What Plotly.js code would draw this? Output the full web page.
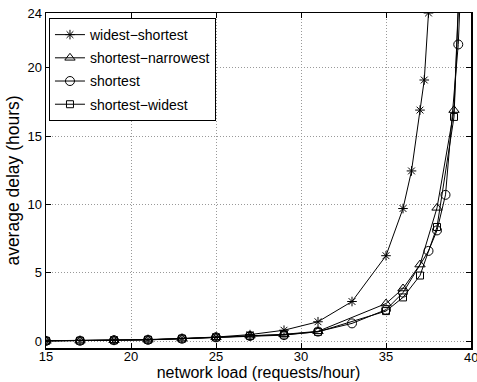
<!DOCTYPE html>
<html>
<head>
<meta charset="utf-8">
<script src="https://cdn.plot.ly/plotly-3.0.1.min.js"></script>
<style>html,body{margin:0;padding:0;background:#fff;}#chart{width:477px;height:382px;}</style>
</head>
<body>
<div id="chart"></div>
<script>
// Data
const seriesNames = ["widest\u2212shortest", "shortest\u2212narrowest", "shortest", "shortest\u2212widest"];

const xWidestShortest = [15, 17, 19, 21, 23, 25, 27, 29, 31, 33, 35, 36, 36.5, 37, 37.25, 37.5, 38];
const yWidestShortest = [0.03, 0.05, 0.08, 0.12, 0.2, 0.3, 0.48, 0.8, 1.42, 2.9, 6.25, 9.7, 12.45, 16.9, 19.1, 24.0, 40];

const xShortestNarrowest = [15, 17, 19, 21, 23, 25, 27, 29, 31, 35, 36, 37, 38, 39, 39.5];
const yShortestNarrowest = [0.02, 0.03, 0.07, 0.1, 0.18, 0.28, 0.4, 0.5, 0.72, 2.75, 3.85, 5.6, 9.75, 16.9, 32];

const xShortest = [15, 17, 19, 21, 23, 25, 27, 29, 31, 33, 35, 36, 37.5, 38, 38.5, 39.25, 39.6];
const yShortest = [0.02, 0.03, 0.07, 0.1, 0.18, 0.28, 0.38, 0.44, 0.7, 1.3, 2.3, 3.55, 6.6, 8.1, 10.7, 21.7, 32];

const xShortestWidest = [15, 17, 19, 21, 23, 25, 27, 29, 31, 35, 36, 37, 38, 39, 39.5];
const yShortestWidest = [0.02, 0.03, 0.07, 0.1, 0.18, 0.28, 0.38, 0.48, 0.68, 2.2, 3.2, 4.8, 8.35, 16.4, 32];

const xTicks = [15, 20, 25, 30, 35, 40];
const xTickText = ["15", "20", "25", "30", "35", ""];   // last label is drawn as an edge annotation below
const xEdgeTick = 40;
const yTicks = [0, 5, 10, 15, 20, 24];

const FONT = "'Liberation Sans', Arial, Helvetica, sans-serif";

function mk(x, y, name, symbol, size, group) {
  return {
    x: x, y: y, name: name, type: 'scatter', mode: 'lines+markers',
    legendgroup: group,
    line: {color: '#000', width: 1},
    marker: {symbol: symbol, size: size, color: '#000', line: {color: '#000', width: 1}},
    cliponaxis: true
  };
}

const traces = [
  mk(xWidestShortest, yWidestShortest, seriesNames[0], 'asterisk-open', 8, 'a'),
  mk(xShortestNarrowest, yShortestNarrowest, seriesNames[1], 'triangle-up-open', 9, 'b'),
  mk(xShortest, yShortest, seriesNames[2], 'circle-open', 9, 'c'),
  mk(xShortestWidest, yShortestWidest, seriesNames[3], 'square-open', 7, 'd')
];

const axisCommon = {
  showline: true, linecolor: '#000', linewidth: 1.5, mirror: 'ticks',
  ticks: 'inside', ticklen: 5, tickwidth: 1, tickcolor: '#000',
  showgrid: true, gridcolor: '#999', griddash: '1px,2px', gridwidth: 1,
  zeroline: false, ticklabeloverflow: 'allow', automargin: false,
  tickfont: {family: FONT, size: 13, color: '#000'}
};

const layout = {
  width: 477, height: 382,
  margin: {l: 46, r: 6, t: 13, b: 34, pad: 0},
  paper_bgcolor: '#fff', plot_bgcolor: '#fff',
  font: {family: FONT, color: '#000'},
  showlegend: true,
  legend: {
    x: 0.007, y: 0.985, xanchor: 'left', yanchor: 'top',
    bgcolor: '#fff', bordercolor: '#000', borderwidth: 1,
    font: {family: FONT, size: 14, color: '#000'},
    traceorder: 'grouped', tracegroupgap: 2
  },
  xaxis: Object.assign({}, axisCommon, {
    range: [15, 40], tickvals: xTicks, ticktext: xTickText,
    ticklabelstandoff: -4,
    title: {text: 'network load (requests/hour)', font: {family: FONT, size: 16, color: '#000'}, standoff: 0}
  }),
  yaxis: Object.assign({}, axisCommon, {
    range: [-0.5, 24], tickvals: yTicks, ticktext: yTicks.map(String),
    title: {text: 'average delay (hours)', font: {family: FONT, size: 17.5, color: '#000'}, standoff: 3}
  }),
  annotations: [{
    x: xEdgeTick, xref: 'x', y: 0, yref: 'paper', yanchor: 'top', xanchor: 'center',
    yshift: -1, showarrow: false, text: String(xEdgeTick), borderpad: 0,
    font: {family: FONT, size: 13, color: '#000'}
  }]
};

Plotly.newPlot('chart', traces, layout, {displayModeBar: false, staticPlot: true});
</script>
</body>
</html>
